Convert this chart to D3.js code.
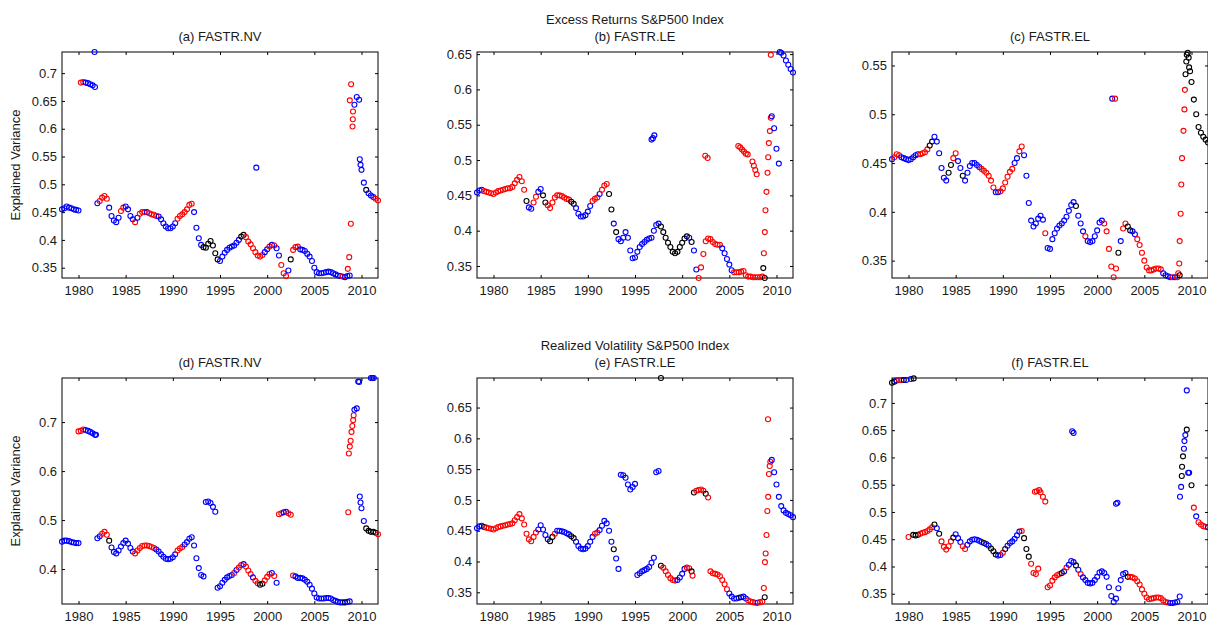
<!DOCTYPE html>
<html>
<head>
<meta charset="utf-8">
<script src="https://cdn.jsdelivr.net/npm/d3@7"></script>
<style>
  body { margin: 0; background: #fff; }
  svg { display: block; font-family: "Liberation Sans", Arial, sans-serif; }
  .tick text { font-size: 13px; fill: #1a1a1a; }
  .title { font-size: 13px; fill: #1a1a1a; text-anchor: middle; }
</style>
</head>
<body>
<svg id="chart" width="1208" height="626"></svg>
<script>
// quarterly observations, first one at 1978.25
const startYear = 1978.25;
const step = 0.25;
const years = [1980, 1985, 1990, 1995, 2000, 2005, 2010];

// (a) excess returns, FASTR.NV
const retNV = [
  .455, .457, .460,
  .458, .457, .455, .454,  .453, .683, .684, .683,  .682, .680, .678, .675,  .466, .470, .476, .479,
  .474, .458, .443, .435,  .432, .440, .452, .458,  .460, .455, .443, .437,  .432, .440, .447, .450,
  .450, .450, .448, .446,  .445, .443, .442, .437,  .430, .424, .421, .421,  .424, .430, .438, .443,
  .446, .450, .455, .463,  .465, .450, .422, .403,  .391, .387, .386, .393,  .398, .390, .376, .365,
  .362, .370, .377, .382,  .386, .388, .390, .395,  .400, .406, .409, .405,  .397, .392, .385, .378,
  .372, .370, .373, .378,  .383, .388, .391, .390,  .385, .372, .355, .340,  .335, .345, .365, .382,
  .387, .388, .383, .382,  .380, .375, .370, .362,  .350, .342, .340, .340,  .341, .342, .343, .342,
  .340, .338, .336, .335,  .334, .333, .335, .336,  null, .643, .657, .652,  .526, .503, .490, .484,
  .480, .477, .474, .471
];
const retNVCol = "bbb bbbb brrb bbbb brrr rbbb bbrr bbbb rbrr rbrr rrbb bbbb bbrr rrrr rbbb bkkk kkkk " +
  "bbbb bbbb bkkr rrrr rrrb brbr bbrr rbkr rrbb bbbb bbbb bbbb bbbb rbbb -bbb bbkb bbrr";
const retNVExtra = [
  [1981.7, .738, "b"], [1998.85, .530, "b"],
  [2008.55, .348, "r"], [2008.7, .369, "r"], [2008.87, .429, "r"], [2008.76, .651, "r"], [2008.9, .680, "r"],
  [2009.05, .604, "r"], [2009.08, .617, "r"], [2009.1, .631, "r"], [2009.82, .545, "b"], [2009.9, .535, "b"]
];

// (b) excess returns, FASTR.LE
const retLE = [
  .454, .457, .458,
  .456, .455, .454, .453,  .452, .454, .456, .457,  .458, .459, .460, .460,  .462, .467, .472, .476,
  .470, .458, .442, .433,  .431, .440, .448, .455,  .459, .450, .440, .436,  .432, .440, .447, .450,
  .450, .449, .447, .445,  .444, .441, .438, .432,  .424, .420, .420, .422,  .427, .435, .442, .445,
  .447, .452, .458, .464,  .466, .452, .430, .410,  .398, .388, .385, .390,  .398, .390, .372, .361,
  .362, .370, .377, .381,  .384, .387, .389, .390,  .400, .408, .410, .406,  .398, .390, .383, .377,
  .370, .368, .370, .377,  .383, .389, .392, .390,  .384, .372, .345, .333,  .348, .367, .385, .389,
  .388, .384, .381, .380,  .380, .375, .368, .360,  .352, .344, .341, .341,  .341, .342, .343, .337,
  .335, .335, .334, .334,  .334, .334, .335, .333,  null, null, .562, .545,  .516, .495, .652, .648,
  .641, .635, .629, .624
];
const retLECol = "bbb rrrr rrrr rrrr rrrr rrkb brrb bkkr rrrr rrrr rkkb bbbb bbrr rbrr rkkb kbbb bbbb " +
  "bbbb bbbb bbbk kkkk kkkk kkkb kbbr rrrr rrrr rbbb bbrr rrrr rrrr rrrk --bb bbbb bbbb";
const retLEExtra = [
  [1996.75, .529, "b"], [1996.9, .531, "b"], [1997.05, .535, "b"],
  [2002.45, .506, "r"], [2002.7, .503, "r"],
  [2005.95, .520, "r"], [2006.15, .518, "r"], [2006.35, .515, "r"], [2006.55, .512, "r"], [2006.75, .509, "r"], [2006.95, .508, "r"],
  [2007.45, .498, "r"], [2007.6, .492, "r"], [2007.75, .486, "r"], [2007.9, .480, "r"],
  [2008.6, .347, "k"],
  [2008.66, .368, "r"], [2008.76, .398, "r"], [2008.83, .429, "r"], [2008.94, .455, "r"], [2009.05, .482, "r"],
  [2009.12, .504, "r"], [2009.19, .524, "r"], [2009.3, .541, "r"], [2009.4, .560, "r"], [2009.4, .649, "r"],
  [2010.35, .653, "b"]
];

// (c) excess returns, FASTR.EL
const retEL = [
  .454, .456, .459,
  .458, .456, .455, .454,  .453, .454, .456, .458,  .459, .459, .460, .461,  .464, .468, .472, .477,
  .472, .460, .445, .435,  .432, .440, .448, .455,  .460, .452, .445, .437,  .432, .440, .447, .450,
  .450, .448, .446, .444,  .442, .440, .437, .432,  .425, .420, .420, .421,  .424, .430, .436, .441,
  .444, .450, .455, .462,  .467, .458, .437, .409,  .391, .385, .388, .393,  .396, .392, .378, .363,
  .362, .372, .378, .383,  .386, .388, .391, .395,  .401, .407, .410, .406,  .396, .388, .380, .375,
  .370, .369, .370, .375,  .381, .389, .391, .388,  .380, .362, .344, .333,  .342, .358, .370, .383,
  .388, .385, .381, .380,  .377, .372, .366, .358,  .350, .343, .340, .340,  .341, .342, .342, .341,
  .337, .335, .334, .333,  .333, .333, .333, .335,  null, null, .561, .548,  .533, .515, .500, .487,
  .481, .477, .474, .471
];
const retELCol = "brr rbbb bbbb brrr rkkb bbbb bkkr rbbk bbbb bbbr rrrr rbbr rrrr rbbr rbbb bbbb bbrb " +
  "bbbb bbbb bbbk bbbr bbbb bbbr rrrr rkbr rkkb brrr rrrr rrrr bbbb rbrk --kk kkkk kkkk";
const retELExtra = [
  [2001.6, .516, "b"], [2001.9, .516, "r"],
  [2008.6, .337, "r"], [2008.7, .347, "r"], [2008.75, .370, "r"], [2008.85, .398, "r"], [2008.92, .428, "r"],
  [2009.0, .455, "r"], [2009.15, .483, "r"], [2009.25, .505, "r"], [2009.3, .525, "r"],
  [2009.37, .541, "k"], [2009.45, .554, "k"], [2009.6, .563, "k"], [2009.7, .558, "k"], [2009.85, .544, "k"]
];

// (d) realized volatility, FASTR.NV
const volNV = [
  .456, .458, .458,
  .457, .455, .454, .453,  .453, .682, .685, .684,  .682, .680, .677, .674,  .463, .467, .472, .476,
  .470, .458, .444, .435,  .432, .438, .446, .453,  .458, .452, .443, .436,  .432, .438, .443, .447,
  .448, .448, .447, .445,  .443, .440, .436, .430,  .425, .421, .420, .421,  .424, .430, .438, .442,
  .445, .450, .455, .462,  .465, .448, .422, .402,  .388, .385, .537, .538,  .535, .527, .517, .362,
  .365, .372, .378, .383,  .386, .388, .392, .398,  .403, .408, .410, .405,  .397, .390, .383, .376,
  .371, .368, .370, .377,  .384, .390, .392, .386,  .372, .512, .514, .516,  .517, .514, .511, .387,
  .385, .382, .382, .381,  .378, .374, .368, .360,  .350, .342, .340, .340,  .340, .341, .341, .340,
  .337, .335, .333, .332,  .332, .332, .333, .334,  null, .725, .728, .782,  .524, .498, .483, .478,
  .476, .476, .474, .471
];
const volNVCol = "bbb bbbb brrb bbbb bbrr rkbb bbbb bbbb rrrr rrrr rbbb bbbb bbrr rbbb bbbb bbbb bbbb " +
  "bbbb bbrb rrbr rrbr rkkr rrbr brrb brrr bbbb bbbb bbbb bbbb bbbb bkbb -bbb bbkk kkkr";
const volNVExtra = [
  [1980.0, .681, "r"], [1981.85, .674, "b"],
  [2008.6, .516, "r"],
  [2008.66, .636, "r"], [2008.76, .650, "r"], [2008.85, .662, "r"], [2008.94, .680, "r"], [2009.03, .692, "r"],
  [2009.12, .704, "r"], [2009.17, .714, "r"],
  [2009.65, .783, "b"], [2009.82, .548, "b"], [2009.9, .536, "b"],
  [2011.0, .790, "b"], [2011.15, .790, "b"], [2011.3, .790, "b"]
];

// (e) realized volatility, FASTR.LE
const volLE = [
  .454, .457, .458,
  .456, .455, .454, .453,  .452, .454, .456, .457,  .458, .459, .460, .461,  .462, .467, .472, .477,
  .470, .460, .445, .436,  .433, .440, .447, .452,  .459, .452, .443, .436,  .433, .440, .445, .450,
  .450, .449, .448, .446,  .444, .441, .438, .432,  .425, .421, .420, .421,  .425, .432, .440, .445,
  .447, .451, .458, .466,  .462, .450, .432, .420,  .405, .388, .541, .540,  .536, .525, .517, .521,
  .526, .378, .381, .384,  .386, .388, .391, .398,  .406, .545, .547, .393,  .390, .384, .378, .373,
  .370, .369, .370, .374,  .380, .388, .390, .389,  .384, .512, .515, .516,  .517, .515, .510, .504,
  .384, .381, .380, .379,  .376, .370, .363, .355,  .348, .343, .340, .340,  .341, .342, .343, .340,
  .337, .335, .334, .333,  .333, .334, .335, .342,  null, null, .565, .545,  .525, .505, .490, .483,
  .479, .477, .475, .472
];
const volLECol = "bbb krrr rrrr rrrr rrrr rrrr rrrb bbbb kkrb bbbb bkkb bbbb bbbr rbbb bbbk bbbb bbbb " +
  "bbbb bbbb bbbk rrrr rrbb bbrr kkrr rrkr rrrr rrrr bbbb bkbb rrrr brrk --bb bbbb bbbb";
const volLEExtra = [
  [1997.75, .698, "k"], [2001.1, .377, "r"],
  [2008.66, .357, "r"], [2008.77, .399, "r"], [2008.85, .413, "r"], [2008.94, .443, "r"], [2009.03, .482, "r"],
  [2009.12, .505, "r"], [2009.2, .542, "r"], [2009.28, .555, "r"], [2009.35, .562, "r"], [2009.1, .631, "r"]
];

// (f) realized volatility, FASTR.EL
const volEL = [
  .737, .739, .741,
  .742, .742, .742, .742,  .454, .744, .458, .457,  .458, .460, .462, .463,  .465, .468, .472, .477,
  .470, .460, .446, .436,  .431, .437, .446, .453,  .459, .452, .445, .437,  .432, .440, .446, .449,
  .450, .449, .447, .445,  .443, .441, .438, .433,  .428, .422, .420, .421,  .425, .432, .438, .443,
  .446, .451, .457, .464,  .465, .452, .432, .418,  .405, .388, .386, .396,  .536, .528, .519, .362,
  .365, .374, .380, .384,  .386, .388, .391, .398,  .403, .410, .408, .402,  .394, .386, .380, .375,
  .370, .369, .370, .375,  .381, .389, .391, .388,  .381, .362, .346, .335,  .341, .360, .375, .386,
  .388, .381, .381, .380,  .378, .373, .367, .358,  .350, .343, .340, .341,  .342, .343, .343, .342,
  .338, .335, .334, .333,  .333, .334, .335, .345,  .583, .630, .651, .572,  .549, .508, .492, .481,
  .477, .474, .473, .472
];
const volELCol = "kkb rrkb rbkk krrr rrrk bkrr rrrk bbbr rbbb bbbb kbbk kkbb rkbb bbbb rkkk rrrr rrrr " +
  "rrrr rkbr bbbk brbb bbbb bbbb bbbb bbbb bkrr rrrr rrrr rrrr rrrb bbbb kbkb krbr rrrb";
const volELExtra = [
  [1980.55, .745, "k"],
  [1993.4, .537, "r"], [1993.6, .538, "r"], [1993.85, .540, "r"],
  [1997.35, .648, "b"], [1997.5, .645, "b"],
  [2002.0, .515, "b"], [2002.15, .517, "b"],
  [2008.78, .528, "b"], [2008.9, .546, "b"], [2008.97, .566, "k"], [2009.1, .602, "k"], [2009.2, .616, "b"],
  [2009.35, .641, "b"], [2009.5, .723, "b"], [2009.65, .572, "b"]
];

const colorOf = { r: "#ff0000", b: "#0000ff", k: "#000000" };

const panels = [
  { vals: retNV, cols: retNVCol, extra: retNVExtra, title: "(a) FASTR.NV", ylim: [0.3315, 0.738],
    yticks: [0.35, 0.4, 0.45, 0.5, 0.55, 0.6, 0.65, 0.7], col: 0, row: 0 },
  { vals: retLE, cols: retLECol, extra: retLEExtra, title: "(b) FASTR.LE", ylim: [0.333, 0.653],
    yticks: [0.35, 0.4, 0.45, 0.5, 0.55, 0.6, 0.65], col: 1, row: 0 },
  { vals: retEL, cols: retELCol, extra: retELExtra, title: "(c) FASTR.EL", ylim: [0.3322, 0.5638],
    yticks: [0.35, 0.4, 0.45, 0.5, 0.55], col: 2, row: 0 },
  { vals: volNV, cols: volNVCol, extra: volNVExtra, title: "(d) FASTR.NV", ylim: [0.3287, 0.790],
    yticks: [0.4, 0.5, 0.6, 0.7], col: 0, row: 1 },
  { vals: volLE, cols: volLECol, extra: volLEExtra, title: "(e) FASTR.LE", ylim: [0.331, 0.698],
    yticks: [0.35, 0.4, 0.45, 0.5, 0.55, 0.6, 0.65], col: 1, row: 1 },
  { vals: volEL, cols: volELCol, extra: volELExtra, title: "(f) FASTR.EL", ylim: [0.3312, 0.7457],
    yticks: [0.35, 0.4, 0.45, 0.5, 0.55, 0.6, 0.65, 0.7], col: 2, row: 1 }
];

const colLeft = [62, 477, 892];
const rowTop = [52, 378];
const pw = 316, ph = 226;

const svg = d3.select("#chart");

panels.forEach(p => {
  const left = colLeft[p.col], top = rowTop[p.row];
  const g = svg.append("g").attr("transform", `translate(${left},${top})`);

  const x = d3.scaleLinear().domain([1978.25, 2011.75]).range([0, pw]);
  const y = d3.scaleLinear().domain(p.ylim).range([ph, 0]);

  // box + inward ticks on all four sides
  g.append("g").attr("transform", `translate(0,${ph})`)
    .call(d3.axisBottom(x).tickValues(years).tickFormat(d3.format("d")).tickSize(-3).tickSizeOuter(0).tickPadding(8));
  g.append("g")
    .call(d3.axisTop(x).tickValues(years).tickFormat("").tickSize(-3).tickSizeOuter(0));
  g.append("g")
    .call(d3.axisLeft(y).tickValues(p.yticks).tickFormat(d => String(+d.toFixed(2))).tickSize(-3).tickSizeOuter(0).tickPadding(5));
  g.append("g").attr("transform", `translate(${pw},0)`)
    .call(d3.axisRight(y).tickValues(p.yticks).tickFormat("").tickSize(-3).tickSizeOuter(0));
  g.selectAll(".domain").remove();
  g.selectAll(".tick line").attr("stroke", "#000");
  g.append("rect").attr("width", pw).attr("height", ph)
    .attr("fill", "none").attr("stroke", "#000").attr("stroke-width", 1);

  const codes = p.cols.replace(/\s+/g, "");
  const pts = p.vals.map((v, i) => ({ t: startYear + i * step, v: v, c: codes[i] }))
    .filter(d => d.v != null)
    .concat(p.extra.map(e => ({ t: e[0], v: e[1], c: e[2] })))
    .sort((a, b) => a.t - b.t);

  g.append("g").selectAll("circle")
    .data(pts)
    .join("circle")
    .attr("cx", d => x(d.t))
    .attr("cy", d => y(d.v))
    .attr("r", 2.5)
    .attr("fill", "none")
    .attr("stroke", d => colorOf[d.c])
    .attr("stroke-width", 1.1);

  svg.append("text").attr("class", "title")
    .attr("x", left + pw / 2).attr("y", top - 11)
    .text(p.title);

  if (p.col === 0) {
    svg.append("text").attr("class", "title")
      .attr("transform", `translate(20,${top + ph / 2}) rotate(-90)`)
      .text("Explained Variance");
  }
});

svg.append("text").attr("class", "title")
  .attr("x", colLeft[1] + pw / 2).attr("y", 24).text("Excess Returns S&P500 Index");
svg.append("text").attr("class", "title")
  .attr("x", colLeft[1] + pw / 2).attr("y", 350).text("Realized Volatility S&P500 Index");
</script>
</body>
</html>
